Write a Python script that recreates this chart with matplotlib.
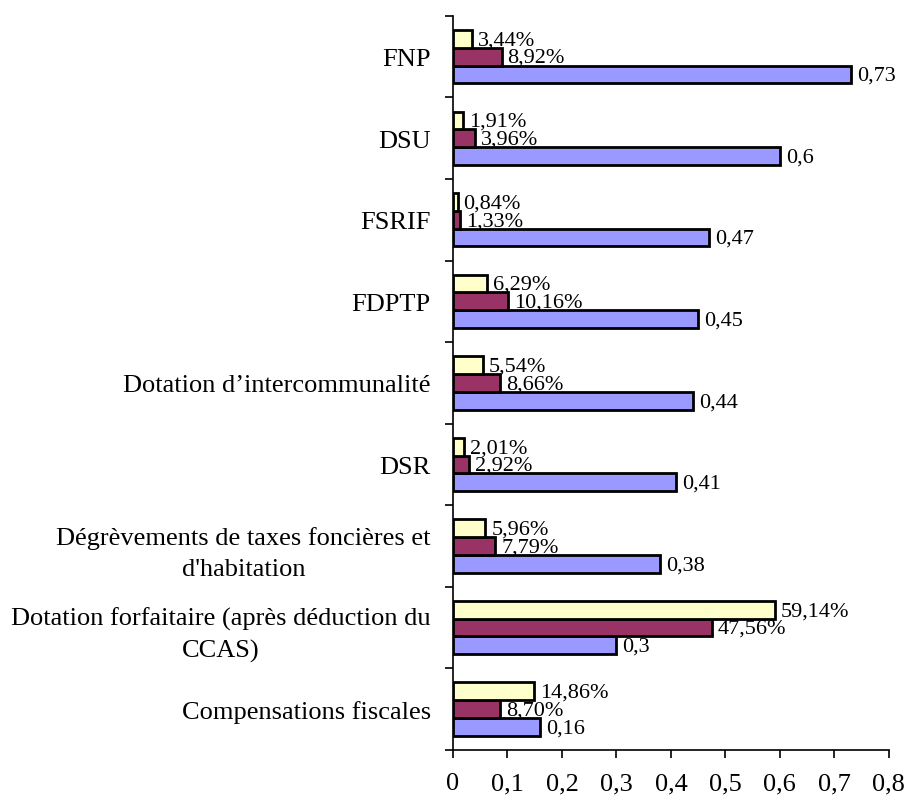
import matplotlib.pyplot as plt
import numpy as np

plt.rcParams['font.family'] = ['Liberation Serif', 'DejaVu Serif']

categories = ['Compensations fiscales',
              'Dotation forfaitaire (après déduction du\nCCAS)',
              "Dégrèvements de taxes foncières et\nd'habitation",
              'DSR',
              'Dotation d’intercommunalité',
              'FDPTP',
              'FSRIF',
              'DSU',
              'FNP']
valeurs = [0.16, 0.3, 0.38, 0.41, 0.44, 0.45, 0.47, 0.6, 0.73]
valeurs_txt = ['0,16', '0,3', '0,38', '0,41', '0,44', '0,45', '0,47', '0,6', '0,73']
part_1 = [8.70, 47.56, 7.79, 2.92, 8.66, 10.16, 1.33, 3.96, 8.92]
part_2 = [14.86, 59.14, 5.96, 2.01, 5.54, 6.29, 0.84, 1.91, 3.44]


def fr(v, nd):
    return f'{v:.{nd}f}'.replace('.', ',')


fig = plt.figure(figsize=(9.06, 8.04), dpi=100)
ax = fig.add_axes([0.5, 0.066, 0.481, 0.913])

y = np.arange(len(categories))
h = 0.218
ec = 'black'
ax.barh(y - h, valeurs, height=h, color='#9999FF', edgecolor=ec, linewidth=2)
ax.barh(y, [p / 100 for p in part_1], height=h, color='#993366', edgecolor=ec, linewidth=2)
ax.barh(y + h, [p / 100 for p in part_2], height=h, color='#FFFFCC', edgecolor=ec, linewidth=2)

off = 0.011
for i in range(len(categories)):
    ax.text(valeurs[i] + off, y[i] - h + 0.02, valeurs_txt[i],
            va='center_baseline', ha='left', fontsize=16)
    ax.text(part_1[i] / 100 + off, y[i] + 0.02, fr(part_1[i], 2) + '%',
            va='center_baseline', ha='left', fontsize=16)
    ax.text(part_2[i] / 100 + off, y[i] + h + 0.02, fr(part_2[i], 2) + '%',
            va='center_baseline', ha='left', fontsize=16)

ax.set_xlim(0, 0.8)
ax.set_ylim(-0.5, len(categories) - 0.5)
xt = np.arange(0, 0.81, 0.1)
ax.set_xticks(xt)
ax.set_xticklabels(['0'] + [fr(v, 1) for v in xt[1:]], fontsize=19)
ax.set_yticks(y)
ax.set_yticklabels(categories, fontsize=19, multialignment='center', linespacing=1.5)
ax.set_yticks(np.arange(-0.5, len(categories)), minor=True)
ax.tick_params(axis='y', which='major', length=0, pad=16)
ax.tick_params(axis='y', which='minor', length=6, width=1.2, direction='out')
ax.tick_params(axis='x', length=6, width=1.2, direction='out', pad=10)

for s in ['top', 'right']:
    ax.spines[s].set_visible(False)
for s in ['left', 'bottom']:
    ax.spines[s].set_linewidth(1.2)

fig.savefig('out.png', dpi=100)
